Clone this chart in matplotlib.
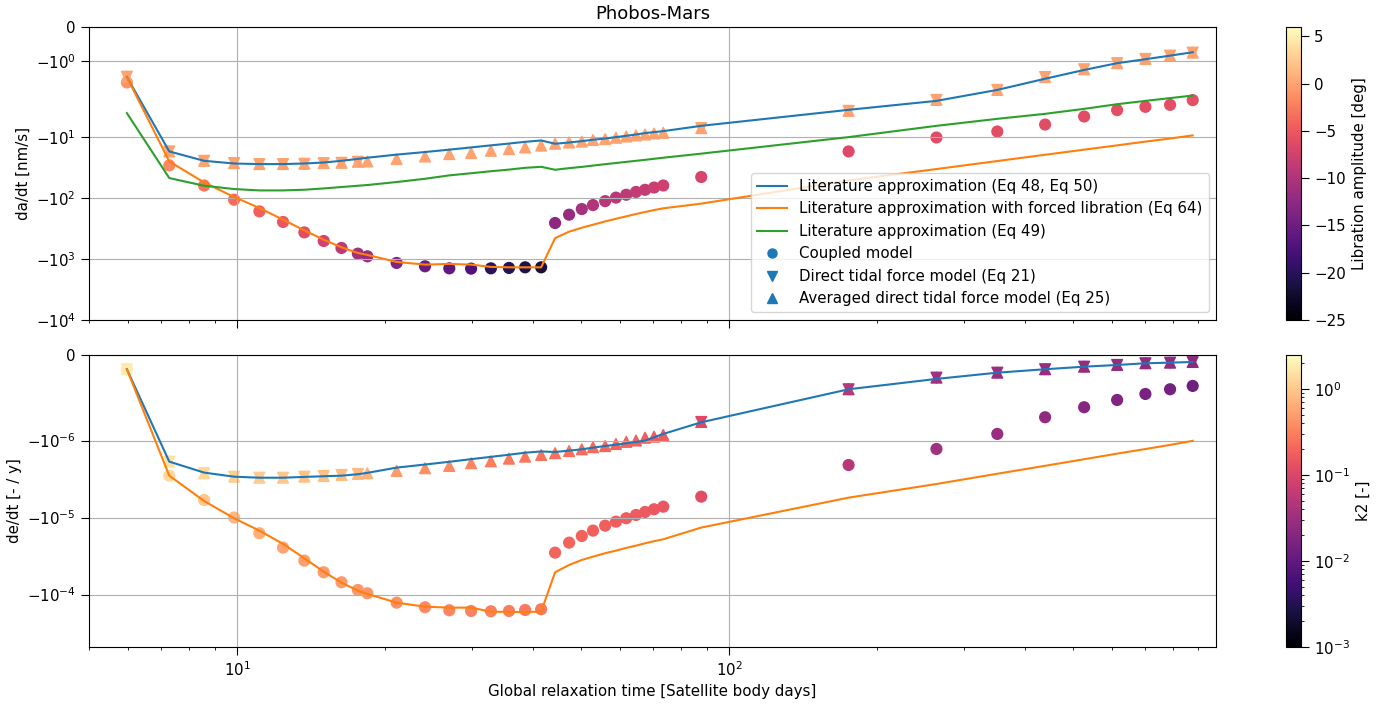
import matplotlib
matplotlib.use('Agg')
import matplotlib.pyplot as plt
from matplotlib.colors import Normalize, LogNorm
from matplotlib.lines import Line2D
from matplotlib.ticker import NullLocator

plt.rcParams['font.size'] = 10.8
plt.rcParams['xtick.major.size'] = 6
plt.rcParams['ytick.major.size'] = 6

# global relaxation time [satellite body days]
tau = [5.97, 7.28, 8.57, 9.86, 11.1, 12.4, 13.7, 15.0, 16.3, 17.6,
       18.4, 21.1, 24.1, 27.0, 29.9, 32.8, 35.7, 38.5, 41.5,
       44.3, 47.3, 50.2, 52.9, 56.0, 58.9, 61.8, 64.7, 67.5, 70.4, 73.5,
       87.8, 175, 264, 351, 439, 527, 615, 702, 788, 876]
# direct model was only run for the first and last ten relaxation times
tau_direct = tau[:10] + tau[30:]

# semi-major axis drift [nm/s]
da_coupled = [-1.64, -29, -62, -106, -165, -246, -365, -505, -657, -815,
              -902, -1158, -1316, -1420, -1436, -1420, -1399, -1367, -1367,
              -256, -187, -151, -130, -112, -98, -88, -79, -73, -67, -62,
              -45, -17.1, -10.1, -8.06, -6.19, -4.57, -3.59, -3.17, -2.94, -2.46]
da_averaged = [-1.47, -17.1, -24.4, -26.6, -27.6, -27.6, -27.3, -26.6, -26.3, -25.3,
               -25.0, -22.8, -20.7, -18.9, -18.2, -16.7, -15.7, -14.7, -13.7,
               -12.8, -12.2, -11.8, -11.1, -10.7, -10.2, -9.73, -9.37, -9.02, -8.69, -8.46,
               -7.09, -3.69, -2.44, -1.86, -1.48, -1.25, -1.07, -0.944, -0.847, -0.758]
da_direct = [-1.47, -17.1, -24.4, -26.6, -27.6, -27.6, -27.3, -26.6, -26.3, -25.3,
             -7.09, -3.69, -2.44, -1.86, -1.48, -1.25, -1.07, -0.944, -0.847, -0.758]
da_lit = [-1.48, -17.1, -24.4, -27.0, -27.6, -27.6, -27.0, -26.0, -24.4, -22.7,
          -21.7, -19.3, -17.5, -16.0, -14.7, -13.6, -12.7, -11.9, -11.3,
          -12.8, -12.2, -11.6, -11.0, -10.5, -9.96, -9.48, -9.02, -8.56, -8.24, -7.94,
          -6.50, -3.55, -2.53, -1.86, -1.53, -1.27, -1.07, -0.953, -0.847, -0.747]
da_lit_forced = [-1.48, -25.0, -55.2, -95.9, -145, -226, -338, -481, -642, -794,
                 -856, -1115, -1234, -1202, -1234, -1346, -1367, -1367, -1367,
                 -454, -355, -306, -273, -241, -218, -199, -182, -169, -157, -147,
                 -123, -51.2, -33.3, -24.6, -19.4, -16.0, -13.6, -11.8, -10.5, -9.34]
da_lit49 = [-4.02, -46.8, -62.6, -70.9, -74.7, -74.7, -72.8, -69.3, -65.7, -62.6,
            -60.9, -54.4, -48.1, -42.3, -39.0, -36.2, -34.0, -31.8, -30.6,
            -34.2, -32.2, -30.7, -29.2, -27.7, -26.5, -25.4, -24.4, -23.5, -22.6, -21.7,
            -18.6, -9.96, -6.50, -4.99, -4.13, -3.42, -2.87, -2.53, -2.28, -2.07]

# libration amplitude [deg]
lib_coupled = [-1.1, -1.75, -3.0, -3.6, -4.5, -5.2, -6.1, -7.3, -8.9, -11.0,
               -11.7, -13.5, -15.0, -16.0, -17.3, -20.0, -20.3, -21.0, -21.6,
               -12.6, -11.7, -10.7, -9.8, -9.5, -9.2, -8.9, -8.6, -8.3, -8.0, -7.6,
               -7.0, -6.4, -6.2, -6.1, -6.0, -6.0, -5.9, -5.9, -5.9, -5.8]
lib_averaged = [0.0] * len(tau)
lib_direct = [0.0] * len(tau_direct)

# eccentricity drift [-/y]
de_coupled = [-1.67e-7, -2.86e-6, -5.92e-6, -1.00e-5, -1.60e-5, -2.46e-5, -3.63e-5, -5.14e-5, -6.93e-5, -8.73e-5,
              -9.63e-5, -1.276e-4, -1.464e-4, -1.60e-4, -1.635e-4, -1.65e-4, -1.635e-4, -1.587e-4, -1.554e-4,
              -2.86e-5, -2.12e-5, -1.736e-5, -1.48e-5, -1.276e-5, -1.132e-5, -1.022e-5, -9.26e-6, -8.47e-6, -7.81e-6, -7.23e-6,
              -5.36e-6, -2.08e-6, -1.287e-6, -9.23e-7, -7.28e-7, -6.11e-7, -5.26e-7, -4.56e-7, -4.01e-7, -3.62e-7]
de_averaged = [-1.67e-7, -1.88e-6, -2.66e-6, -2.95e-6, -3.04e-6, -3.04e-6, -2.95e-6, -2.89e-6, -2.80e-6, -2.72e-6,
               -2.66e-6, -2.48e-6, -2.29e-6, -2.14e-6, -1.97e-6, -1.86e-6, -1.72e-6, -1.62e-6, -1.54e-6,
               -1.46e-6, -1.37e-6, -1.30e-6, -1.22e-6, -1.18e-6, -1.11e-6, -1.04e-6, -1.00e-6, -9.67e-7, -9.55e-7, -9.35e-7,
               -7.83e-7, -4.01e-7, -2.65e-7, -2.07e-7, -1.67e-7, -1.37e-7, -1.17e-7, -9.7e-8, -9.0e-8, -8.2e-8]
de_direct = [-1.67e-7, -1.88e-6, -2.66e-6, -2.95e-6, -3.04e-6, -3.04e-6, -2.95e-6, -2.89e-6, -2.80e-6, -2.72e-6,
             -7.83e-7, -4.01e-7, -2.65e-7, -2.07e-7, -1.67e-7, -1.37e-7, -1.17e-7, -9.7e-8, -9.0e-8, -8.2e-8]
de_lit = [-1.67e-7, -1.88e-6, -2.61e-6, -2.95e-6, -3.04e-6, -3.04e-6, -2.97e-6, -2.91e-6, -2.86e-6, -2.74e-6,
          -2.63e-6, -2.25e-6, -2.05e-6, -1.89e-6, -1.746e-6, -1.63e-6, -1.53e-6, -1.44e-6, -1.387e-6,
          -1.408e-6, -1.354e-6, -1.30e-6, -1.238e-6, -1.177e-6, -1.132e-6, -1.085e-6, -1.044e-6, -1.004e-6, -9.62e-7, -9.23e-7,
          -7.87e-7, -4.01e-7, -2.8e-7, -2.07e-7, -1.67e-7, -1.37e-7, -1.17e-7, -9.7e-8, -9.0e-8, -8.2e-8]
de_lit_forced = [-1.67e-7, -2.86e-6, -6.10e-6, -1.022e-5, -1.48e-5, -2.20e-5, -3.38e-5, -5.05e-5, -7.01e-5, -8.91e-5,
                 -9.83e-5, -1.276e-4, -1.438e-4, -1.48e-4, -1.48e-4, -1.67e-4, -1.685e-4, -1.685e-4, -1.67e-4,
                 -5.14e-5, -4.13e-5, -3.56e-5, -3.22e-5, -2.91e-5, -2.69e-5, -2.48e-5, -2.32e-5, -2.16e-5, -2.03e-5, -1.916e-5,
                 -1.35e-5, -5.52e-6, -3.67e-6, -2.70e-6, -2.13e-6, -1.75e-6, -1.48e-6, -1.29e-6, -1.14e-6, -1.01e-6]

# Love number k2 [-]
k2_coupled = [1.83, 1.34, 0.98, 0.77, 0.66, 0.57, 0.52, 0.48, 0.48, 0.46,
              0.45, 0.40, 0.37, 0.34, 0.33, 0.31, 0.30, 0.29, 0.28,
              0.20, 0.195, 0.19, 0.185, 0.18, 0.175, 0.17, 0.16, 0.16, 0.155, 0.15,
              0.12, 0.05, 0.034, 0.029, 0.025, 0.021, 0.018, 0.0155, 0.0143, 0.0133]
k2_averaged = [1.83, 1.56, 1.24, 1.14, 1.06, 0.98, 0.94, 0.90, 0.84, 0.81,
               0.71, 0.48, 0.41, 0.37, 0.33, 0.30, 0.28, 0.27, 0.26,
               0.24, 0.24, 0.22, 0.22, 0.21, 0.20, 0.195, 0.19, 0.18, 0.175, 0.17,
               0.11, 0.05, 0.034, 0.031, 0.029, 0.027, 0.027, 0.025, 0.025, 0.023]
k2_direct = k2_averaged[:10] + k2_averaged[30:]

fig = plt.figure(figsize=(13.95, 7.04), dpi=100)
ax1 = fig.add_axes([0.0638, 0.5455, 0.8079, 0.4162])
ax2 = fig.add_axes([0.0638, 0.0810, 0.8079, 0.4148], sharex=ax1)
cax1 = fig.add_axes([0.9219, 0.5455, 0.0108, 0.4162])
cax2 = fig.add_axes([0.9219, 0.0810, 0.0108, 0.4148])

lib_norm = Normalize(vmin=-25, vmax=6)
k2_norm = LogNorm(vmin=1e-3, vmax=2.5)

# da/dt
sc1 = ax1.scatter(tau, da_coupled, c=lib_coupled, cmap='magma', norm=lib_norm, s=60, marker='o')
ax1.scatter(tau_direct, da_direct, c=lib_direct, cmap='magma', norm=lib_norm, s=60, marker='v')
ax1.scatter(tau, da_averaged, c=lib_averaged, cmap='magma', norm=lib_norm, s=60, marker='^')
ax1.plot(tau, da_lit, color='C0')
ax1.plot(tau, da_lit_forced, color='C1')
ax1.plot(tau, da_lit49, color='C2')
ax1.set_xscale('log')
ax1.set_yscale('symlog', linthresh=2)
ax1.set_xlim(5, 977)
ax1.set_ylim(-1e4, 0)
ax1.set_yticks([-1e4, -1e3, -1e2, -1e1, -1, 0])
ax1.yaxis.set_minor_locator(NullLocator())
ax1.tick_params(labelbottom=False)
ax1.grid(True)
ax1.set_ylabel('da/dt [nm/s]')
ax1.set_title('Phobos-Mars')

handles = [Line2D([], [], color='C0', label='Literature approximation (Eq 48, Eq 50)'),
           Line2D([], [], color='C1', label='Literature approximation with forced libration (Eq 64)'),
           Line2D([], [], color='C2', label='Literature approximation (Eq 49)'),
           Line2D([], [], color='C0', marker='o', markersize=6.5, linestyle='none', label='Coupled model'),
           Line2D([], [], color='C0', marker='v', markersize=6.5, linestyle='none', label='Direct tidal force model (Eq 21)'),
           Line2D([], [], color='C0', marker='^', markersize=6.5, linestyle='none', label='Averaged direct tidal force model (Eq 25)')]
ax1.legend(handles=handles, loc='lower right')

cb1 = fig.colorbar(sc1, cax=cax1)
cb1.set_label('Libration amplitude [deg]')

# de/dt
sc2 = ax2.scatter(tau, de_coupled, c=k2_coupled, cmap='magma', norm=k2_norm, s=60, marker='o')
ax2.scatter(tau_direct, de_direct, c=k2_direct, cmap='magma', norm=k2_norm, s=60, marker='v')
ax2.scatter(tau, de_averaged, c=k2_averaged, cmap='magma', norm=k2_norm, s=60, marker='^')
ax2.plot(tau, de_lit, color='C0')
ax2.plot(tau, de_lit_forced, color='C1')
ax2.set_yscale('symlog', linthresh=1e-6)
ax2.set_ylim(-4.8e-4, 0)
ax2.set_yticks([-1e-4, -1e-5, -1e-6, 0])
ax2.yaxis.set_minor_locator(NullLocator())
ax2.grid(True)
ax2.set_ylabel('de/dt [- / y]')
ax2.set_xlabel('Global relaxation time [Satellite body days]')

cb2 = fig.colorbar(sc2, cax=cax2)
cb2.set_label('k2 [-]')

fig.savefig('out.png', dpi=100)
